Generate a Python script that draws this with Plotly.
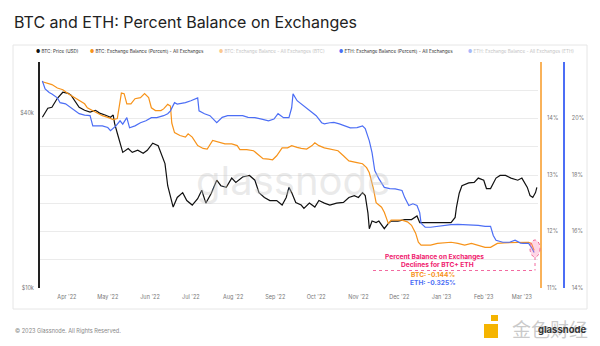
import plotly.graph_objects as go

# ---- data -------------------------------------------------------------
btc_dates = [
    "2022-03-14", "2022-03-18", "2022-03-21", "2022-03-25", "2022-03-29", "2022-04-02",
    "2022-04-04", "2022-04-07", "2022-04-10", "2022-04-14", "2022-04-18", "2022-04-22",
    "2022-04-25", "2022-04-29", "2022-05-03", "2022-05-05", "2022-05-06", "2022-05-08",
    "2022-05-11", "2022-05-12", "2022-05-16", "2022-05-19", "2022-05-23", "2022-05-27",
    "2022-05-30", "2022-06-03", "2022-06-07", "2022-06-10", "2022-06-12", "2022-06-14",
    "2022-06-17", "2022-06-18", "2022-06-21", "2022-06-25", "2022-06-28", "2022-07-02",
    "2022-07-06", "2022-07-09", "2022-07-12", "2022-07-16", "2022-07-20", "2022-07-23",
    "2022-07-27", "2022-07-31", "2022-08-03", "2022-08-08", "2022-08-13", "2022-08-17",
    "2022-08-20", "2022-08-24", "2022-08-28", "2022-09-02", "2022-09-06", "2022-09-09",
    "2022-09-11", "2022-09-13", "2022-09-16", "2022-09-20", "2022-09-22", "2022-09-26",
    "2022-09-30", "2022-10-03", "2022-10-07", "2022-10-11", "2022-10-16", "2022-10-21",
    "2022-10-25", "2022-10-29", "2022-11-01", "2022-11-04", "2022-11-06", "2022-11-08",
    "2022-11-09", "2022-11-11", "2022-11-14", "2022-11-16", "2022-11-20", "2022-11-23",
    "2022-11-25", "2022-11-30", "2022-12-05", "2022-12-10", "2022-12-14", "2022-12-16",
    "2022-12-20", "2022-12-24", "2022-12-29", "2023-01-03", "2023-01-08", "2023-01-11",
    "2023-01-12", "2023-01-14", "2023-01-16", "2023-01-21", "2023-01-25", "2023-01-28",
    "2023-02-01", "2023-02-03", "2023-02-06", "2023-02-10", "2023-02-13", "2023-02-17",
    "2023-02-21", "2023-02-26", "2023-03-01", "2023-03-05", "2023-03-07", "2023-03-09",
    "2023-03-11", "2023-03-12",
]
btc_price = [
    38700, 41600, 41900, 45000, 47200, 46800,
    46100, 43700, 41900, 40900, 40300, 40900,
    40000, 39400, 38700, 39400, 36900, 34100,
    30500, 29300, 30200, 29300, 29800, 29100,
    29800, 31500, 30900, 28200, 26800, 22500,
    20000, 19000, 20500, 21300, 20000, 19300,
    20300, 21700, 19600, 21200, 23500, 22500,
    22200, 23900, 23100, 24100, 24400, 23500,
    21300, 20500, 20000, 20000, 19300, 20500,
    22200, 21300, 19700, 19300, 18800, 19600,
    19000, 20000, 19600, 19300, 19600, 19700,
    20500, 20800, 20500, 21300, 20800, 18100,
    16000, 17000, 16800, 17000, 16000, 16700,
    17000, 17000, 17200, 17200, 17700, 16800,
    16800, 16800, 16700, 16700, 16800, 17500,
    19000, 21200, 22500, 23000, 23100, 23900,
    23500, 22000, 22000, 23900, 24400, 24400,
    23900, 23500, 23900, 22200, 20800, 20500,
    21300, 22200,
]

btc_bal_dates = [
    "2022-03-14", "2022-03-18", "2022-03-21", "2022-03-25", "2022-03-29", "2022-04-02",
    "2022-04-07", "2022-04-10", "2022-04-14", "2022-04-16", "2022-04-20", "2022-04-24",
    "2022-04-27", "2022-05-01", "2022-05-05", "2022-05-08", "2022-05-10", "2022-05-11",
    "2022-05-13", "2022-05-15", "2022-05-18", "2022-05-21", "2022-05-25", "2022-05-28",
    "2022-05-31", "2022-06-02", "2022-06-05", "2022-06-09", "2022-06-11", "2022-06-14",
    "2022-06-16", "2022-06-17", "2022-06-19", "2022-06-23", "2022-06-27", "2022-06-29",
    "2022-07-02", "2022-07-06", "2022-07-10", "2022-07-13", "2022-07-17", "2022-07-21",
    "2022-07-26", "2022-07-31", "2022-08-04", "2022-08-06", "2022-08-11", "2022-08-16",
    "2022-08-20", "2022-08-23", "2022-08-27", "2022-08-30", "2022-09-02", "2022-09-06",
    "2022-09-10", "2022-09-13", "2022-09-17", "2022-09-20", "2022-09-24", "2022-09-28",
    "2022-09-30", "2022-10-03", "2022-10-07", "2022-10-12", "2022-10-17", "2022-10-21",
    "2022-10-25", "2022-10-31", "2022-11-04", "2022-11-07", "2022-11-09", "2022-11-12",
    "2022-11-14", "2022-11-18", "2022-11-20", "2022-11-23", "2022-11-25", "2022-11-29",
    "2022-12-03", "2022-12-07", "2022-12-10", "2022-12-13", "2022-12-15", "2022-12-17",
    "2022-12-20", "2022-12-24", "2022-12-29", "2023-01-03", "2023-01-08", "2023-01-13",
    "2023-01-18", "2023-01-23", "2023-01-28", "2023-02-02", "2023-02-06", "2023-02-11",
    "2023-02-16", "2023-02-21", "2023-02-26", "2023-03-02", "2023-03-06", "2023-03-08",
    "2023-03-10",
]
btc_bal_pct = [
    14.65, 14.62, 14.60, 14.54, 14.51, 14.44,
    14.37, 14.33, 14.26, 14.19, 14.14, 14.08,
    14.05, 14.02, 13.98, 14.00, 14.26, 14.45,
    14.44, 14.26, 14.26, 14.35, 14.37, 14.44,
    14.37, 14.19, 14.14, 14.14, 14.17, 14.25,
    14.22, 13.92, 13.75, 13.70, 13.67, 13.73,
    13.67, 13.52, 13.47, 13.46, 13.61, 13.58,
    13.55, 13.55, 13.52, 13.45, 13.45, 13.43,
    13.34, 13.29, 13.28, 13.27, 13.34, 13.48,
    13.48, 13.52, 13.49, 13.47, 13.46, 13.52,
    13.57, 13.52, 13.48, 13.46, 13.43, 13.34,
    13.25, 13.22, 13.20, 13.13, 13.04, 12.76,
    12.51, 12.43, 12.34, 12.14, 12.20, 12.20,
    12.20, 12.17, 12.11, 11.97, 11.81, 11.76,
    11.76, 11.76, 11.79, 11.80, 11.81, 11.79,
    11.76, 11.79, 11.76, 11.72, 11.72, 11.79,
    11.80, 11.80, 11.81, 11.81, 11.81, 11.79,
    11.666,
]

eth_bal_dates = [
    "2022-03-14", "2022-03-16", "2022-03-19", "2022-03-21", "2022-03-25", "2022-03-27",
    "2022-03-31", "2022-04-04", "2022-04-08", "2022-04-10", "2022-04-14", "2022-04-18",
    "2022-04-20", "2022-04-24", "2022-04-27", "2022-05-01", "2022-05-03", "2022-05-07",
    "2022-05-10", "2022-05-12", "2022-05-15", "2022-05-17", "2022-05-21", "2022-05-25",
    "2022-05-29", "2022-06-02", "2022-06-06", "2022-06-11", "2022-06-14", "2022-06-16",
    "2022-06-19", "2022-06-21", "2022-06-27", "2022-07-01", "2022-07-05", "2022-07-06",
    "2022-07-07", "2022-07-11", "2022-07-15", "2022-07-17", "2022-07-20", "2022-07-24",
    "2022-07-28", "2022-08-02", "2022-08-08", "2022-08-12", "2022-08-17", "2022-08-22",
    "2022-08-27", "2022-08-31", "2022-09-03", "2022-09-07", "2022-09-11", "2022-09-13",
    "2022-09-14", "2022-09-17", "2022-09-20", "2022-09-24", "2022-09-28", "2022-10-01",
    "2022-10-05", "2022-10-07", "2022-10-11", "2022-10-14", "2022-10-18", "2022-10-22",
    "2022-10-26", "2022-10-31", "2022-11-04", "2022-11-06", "2022-11-09", "2022-11-11",
    "2022-11-13", "2022-11-16", "2022-11-18", "2022-11-20", "2022-11-24", "2022-11-28",
    "2022-12-03", "2022-12-05", "2022-12-08", "2022-12-11", "2022-12-14", "2022-12-16",
    "2022-12-17", "2022-12-20", "2022-12-24", "2022-12-29", "2023-01-03", "2023-01-08",
    "2023-01-13", "2023-01-18", "2023-01-23", "2023-01-28", "2023-02-02", "2023-02-06",
    "2023-02-08", "2023-02-10", "2023-02-15", "2023-02-20", "2023-02-24", "2023-02-28",
    "2023-03-02", "2023-03-06", "2023-03-08", "2023-03-10",
]
eth_bal_pct = [
    21.33, 21.05, 20.92, 20.87, 20.73, 20.56,
    20.52, 20.38, 20.27, 20.17, 20.12, 20.10,
    19.74, 19.74, 19.74, 19.68, 19.57, 19.74,
    19.92, 19.80, 20.03, 19.67, 19.74, 19.85,
    19.92, 20.03, 20.03, 20.10, 20.17, 20.27,
    20.56, 20.51, 20.56, 20.63, 20.70, 20.73,
    20.27, 20.17, 20.10, 19.99, 19.85, 20.04,
    20.10, 20.10, 20.10, 20.04, 20.03, 19.98,
    19.92, 19.98, 20.17, 20.03, 20.03, 20.38,
    20.87, 20.63, 20.51, 20.38, 20.21, 20.10,
    19.85, 19.81, 19.85, 19.86, 19.81, 19.74,
    19.67, 19.68, 19.74, 19.64, 19.21, 18.79,
    18.16, 17.87, 17.73, 17.56, 17.52, 17.51,
    17.45, 17.20, 16.92, 16.98, 16.92, 16.67,
    16.29, 16.15, 16.15, 16.18, 16.22, 16.24,
    16.25, 16.24, 16.22, 16.22, 16.18, 16.18,
    15.86, 15.69, 15.62, 15.62, 15.69, 15.59,
    15.58, 15.58, 15.44, 15.255,
]

pct_tick_vals = [11, 11.5, 12, 12.5, 13, 13.5, 14, 14.5, 15]
pct_tick_text = ["11%", "", "12%", "", "13%", "", "14%", "", ""]
eth_tick_vals = [14, 16, 18, 20]
eth_tick_text = ["14%", "16%", "18%", "20%"]
price_tick_vals = [10000, 40000]
price_tick_text = ["$10k", "$40k"]

# ---- colours / helpers --------------------------------------------------
W, H = 600, 346
ORANGE = "#f7931a"
BLUE = "#4c6ef5"
BLACK = "#111111"
PINK = "#f0206e"
FONT = "Inter"


def px(x):
    return x / W


def py(y):
    return 1 - y / H


fig = go.Figure()

fig.add_trace(go.Scatter(x=eth_bal_dates, y=eth_bal_pct, yaxis="y3", mode="lines",
                         line=dict(color=BLUE, width=1.2), name="ETH: Exchange Balance (Percent) - All Exchanges"))
fig.add_trace(go.Scatter(x=btc_bal_dates, y=btc_bal_pct, yaxis="y2", mode="lines",
                         line=dict(color=ORANGE, width=1.2), name="BTC: Exchange Balance (Percent) - All Exchanges"))
fig.add_trace(go.Scatter(x=btc_dates, y=btc_price, yaxis="y", mode="lines",
                         line=dict(color=BLACK, width=1.2), name="BTC: Price (USD)"))

tick_font = dict(family=FONT, size=5.5, color="#777777")

fig.update_layout(
    width=W, height=H,
    margin=dict(l=0, r=0, t=0, b=0),
    paper_bgcolor="white", plot_bgcolor="rgba(0,0,0,0)",
    showlegend=False,
    font=dict(family=FONT),
    xaxis=dict(
        domain=[px(40), px(538)],
        range=["2022-03-12 06:00", "2023-03-12 20:00"],
        type="date", tick0="2022-04-01", dtick="M1", tickformat="%b '%y",
        showgrid=False, zeroline=False, showline=False, ticks="",
        tickfont=tick_font, automargin=False, ticklabelstandoff=4,
    ),
    yaxis=dict(
        domain=[py(288), py(62)],
        type="log", range=[4, 4.778],
        tickvals=price_tick_vals, ticktext=price_tick_text,
        showgrid=False, zeroline=False, ticks="",
        showline=True, linecolor="#222222", linewidth=2,
        tickfont=tick_font, automargin=False, ticklabelstandoff=3,
    ),
    yaxis2=dict(
        overlaying="y", anchor="free", position=px(541), side="right",
        range=[11, 15], tickvals=pct_tick_vals, ticktext=pct_tick_text,
        showgrid=True, gridcolor="#ebebeb", gridwidth=1, zeroline=False, ticks="",
        showline=True, linecolor="#f9b25a", linewidth=2,
        tickfont=tick_font, automargin=False, ticklabelstandoff=4,
    ),
    yaxis3=dict(
        overlaying="y", anchor="free", position=px(564), side="right",
        range=[14, 22], tickvals=eth_tick_vals, ticktext=eth_tick_text,
        showgrid=False, zeroline=False, ticks="",
        showline=True, linecolor=BLUE, linewidth=1.5,
        tickfont=tick_font, automargin=False, ticklabelstandoff=6,
    ),
)

shapes = [
    # chart card
    dict(type="rect", xref="paper", yref="paper", x0=px(13), x1=px(587), y0=py(309), y1=py(45),
         line=dict(color="#e6e6e6", width=1), fillcolor="rgba(0,0,0,0)", layer="below"),
    # highlight around the latest readings
    dict(type="circle", xref="paper", yref="paper", x0=px(530), x1=px(540), y0=py(257), y1=py(240),
         line=dict(color="#f06292", width=1, dash="dot"), fillcolor="rgba(255,120,170,0.30)"),
    dict(type="line", xref="paper", yref="paper", x0=px(373), x1=px(535), y0=py(270.5), y1=py(270.5),
         line=dict(color="#f26aa0", width=1, dash="dot")),
    dict(type="line", xref="paper", yref="paper", x0=px(535), x1=px(535), y0=py(257), y1=py(270.5),
         line=dict(color="#f26aa0", width=1, dash="dot")),
    # small yellow mark in the footer
    dict(type="rect", xref="paper", yref="paper", x0=px(484), x1=px(498), y0=py(338), y1=py(324),
         line=dict(width=0), fillcolor="#f5b400"),
    dict(type="rect", xref="paper", yref="paper", x0=px(491), x1=px(498), y0=py(321), y1=py(315),
         line=dict(width=0), fillcolor="#f5b400"),
]
fig.update_layout(shapes=shapes)


def note(x, y, text, size, color, anchor="left", **kw):
    fig.add_annotation(xref="paper", yref="paper", x=px(x), y=py(y), text=text, showarrow=False,
                       xanchor=anchor, yanchor="middle", font=dict(family=kw.pop("family", FONT),
                                                                   size=size, color=color), **kw)


# title
note(12, 22, "BTC and ETH: Percent Balance on Exchanges", 16, "#222222")

# legend row
legend_items = [
    (34, BLACK, "#333333", "BTC: Price (USD)"),
    (88, ORANGE, "#333333", "BTC: Exchange Balance (Percent) - All Exchanges"),
    (217, "#fbc98e", "#c4c4c4", "BTC: Exchange Balance - All Exchanges (BTC)"),
    (337, BLUE, "#333333", "ETH: Exchange Balance (Percent) - All Exchanges"),
    (466, "#a9b9f9", "#c4c4c4", "ETH: Exchange Balance - All Exchanges (ETH)"),
]
for lx, dot, txt_color, label in legend_items:
    note(lx, 51, f"<span style='color:{dot}'>●</span> {label}", 4.6, txt_color)

# watermark
note(293, 180, "glassnode", 40, "rgba(200,200,200,0.38)", anchor="center")

# call-out text
note(434, 257, "<b>Percent Balance on Exchanges</b>", 6.6, PINK, anchor="center")
note(437, 265, "<b>Declines for BTC+ ETH</b>", 6.6, PINK, anchor="center")
note(433, 275, "<b>BTC: -0.144%</b>", 6.6, ORANGE, anchor="center")
note(433, 282.5, "<b>ETH: -0.325%</b>", 6.6, BLUE, anchor="center")

# footer
note(13, 330, "© 2023 Glassnode. All Rights Reserved.", 5.6, "#888888")
note(550, 328, "金色财经", 19, "rgba(150,150,150,0.5)", anchor="center", family="Noto Sans CJK SC")
note(588, 330, "<b>glassnode</b>", 9.5, "#333333", anchor="right")

fig.write_html("out.html")
